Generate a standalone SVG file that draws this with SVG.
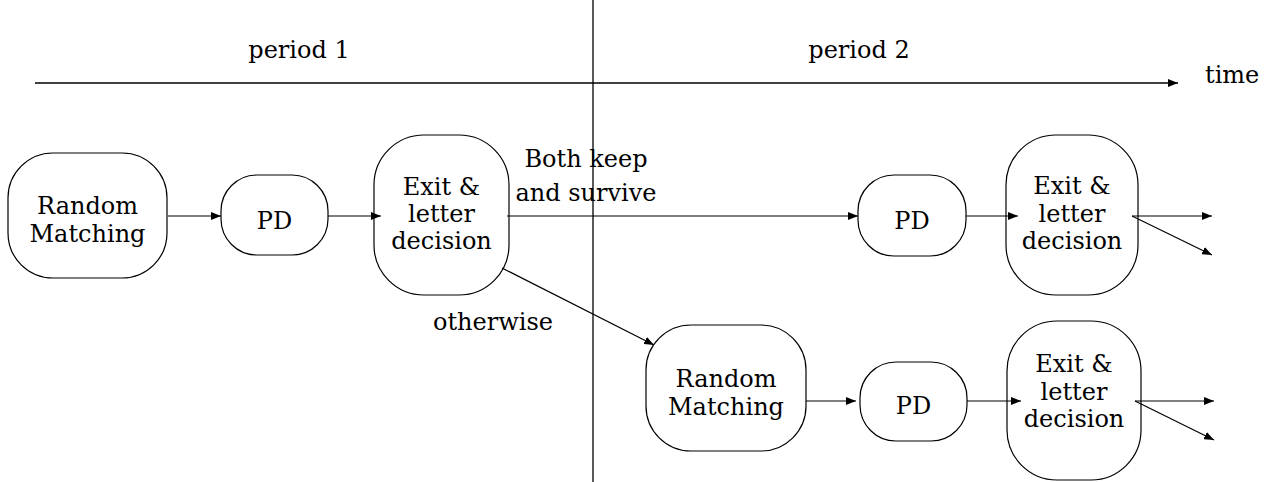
<svg xmlns="http://www.w3.org/2000/svg" width="1278" height="482" viewBox="0 0 1278 482">
<style>
text{font-family:"DejaVu Serif","Liberation Serif",serif;font-size:24px;fill:#000;text-anchor:middle}
.node{fill:#fff;stroke:#000;stroke-width:1.2}
.conn{fill:none;stroke:#000;stroke-width:1.2}
.axis{fill:none;stroke:#000;stroke-width:1.3}
</style>
<defs>
<marker id="ah" viewBox="0 0 10 8" refX="10" refY="4" markerWidth="10" markerHeight="8" markerUnits="userSpaceOnUse" orient="auto">
<path d="M0,0 L10,4 L0,8 Z" fill="#000"/>
</marker>
</defs>
<rect width="1278" height="482" fill="#fff"/>
<g id="axes">
<line class="axis" x1="35" y1="83" x2="1178" y2="83" marker-end="url(#ah)"/>
<line class="axis" x1="593" y1="0" x2="593" y2="482"/>
<text x="299" y="58">period 1</text>
<text x="859" y="58">period 2</text>
<text x="1205" y="83" style="text-anchor:start">time</text>
</g>
<g id="rm1">
<rect class="node" x="8" y="153" width="159" height="125" rx="45" ry="45"/>
<text x="87.5" y="214">Random</text>
<text x="87.5" y="241.5">Matching</text>
</g>
<g id="pd1">
<rect class="node" x="221" y="175" width="107" height="80" rx="36" ry="36"/>
<text x="274.5" y="228.5">PD</text>
</g>
<g id="exit1">
<rect class="node" x="374" y="135" width="135" height="160" rx="50" ry="50"/>
<text x="441.5" y="195">Exit &amp;</text>
<text x="441.5" y="222">letter</text>
<text x="441.5" y="249">decision</text>
</g>
<g id="pd2">
<rect class="node" x="858" y="175" width="108" height="81" rx="36" ry="36"/>
<text x="912" y="229">PD</text>
</g>
<g id="exit2">
<rect class="node" x="1006" y="135" width="132" height="160" rx="50" ry="50"/>
<text x="1072" y="194">Exit &amp;</text>
<text x="1072" y="222">letter</text>
<text x="1072" y="249">decision</text>
</g>
<g id="rm2">
<rect class="node" x="646" y="325" width="160" height="126" rx="45" ry="45"/>
<text x="726" y="387">Random</text>
<text x="726" y="414.5">Matching</text>
</g>
<g id="pd3">
<rect class="node" x="860" y="362" width="107" height="79" rx="36" ry="36"/>
<text x="913.5" y="414">PD</text>
</g>
<g id="exit3">
<rect class="node" x="1007" y="321" width="134" height="159" rx="50" ry="50"/>
<text x="1074" y="372">Exit &amp;</text>
<text x="1074" y="400">letter</text>
<text x="1074" y="427">decision</text>
</g>
<g id="connectors">
<line class="conn" x1="168" y1="216" x2="221" y2="216" marker-end="url(#ah)"/>
<line class="conn" x1="328" y1="216" x2="381" y2="216" marker-end="url(#ah)"/>
<line class="conn" x1="507" y1="216" x2="858" y2="216" marker-end="url(#ah)"/>
<line class="conn" x1="966" y1="216" x2="1018" y2="216" marker-end="url(#ah)"/>
<line class="conn" x1="1132" y1="216" x2="1212" y2="216" marker-end="url(#ah)"/>
<line class="conn" x1="1132" y1="216" x2="1212" y2="255" marker-end="url(#ah)"/>
<line class="conn" x1="502" y1="268" x2="654" y2="345" marker-end="url(#ah)"/>
<line class="conn" x1="806" y1="401" x2="856" y2="401" marker-end="url(#ah)"/>
<line class="conn" x1="967" y1="401" x2="1021" y2="401" marker-end="url(#ah)"/>
<line class="conn" x1="1135" y1="401" x2="1214" y2="401" marker-end="url(#ah)"/>
<line class="conn" x1="1135" y1="401" x2="1214" y2="440" marker-end="url(#ah)"/>
<text x="586" y="167">Both keep</text>
<text x="586" y="201">and survive</text>
<text x="493" y="330">otherwise</text>
</g>
</svg>
